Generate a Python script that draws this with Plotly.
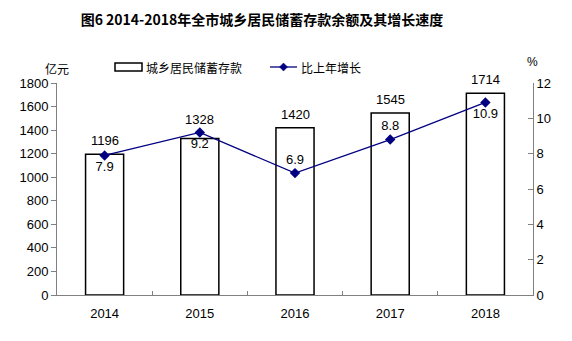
import plotly.graph_objects as go

years = ["2014", "2015", "2016", "2017", "2018"]
deposits = [1196, 1328, 1420, 1545, 1714]
growth = [7.9, 9.2, 6.9, 8.8, 10.9]
growth_label_pos = ["bottom center", "bottom center", "top center", "top center", "bottom center"]
deposit_label_shift = [4, 10, 4, 4, 4]

title_text = "图6 2014-2018年全市城乡居民储蓄存款余额及其增长速度"
bar_name = "城乡居民储蓄存款"
line_name = "比上年增长"

NUM_FONT = "Arial, Liberation Sans, Noto Sans CJK SC, sans-serif"
CJK_FONT = "Noto Sans CJK SC, sans-serif"
NAVY = "#000080"

# plot area geometry (px)
W, H = 572, 341
ML, MR, MT, MB = 57, 39, 83, 46
PW, PH = W - ML - MR, H - MT - MB


def to_px_x(xp):
    return (xp - ML) / PW


def to_px_y(yp):
    return (H - MB - yp) / PH


fig = go.Figure()
fig.add_trace(go.Bar(
    x=years, y=deposits, name=bar_name, showlegend=False,
    marker=dict(color="white", line=dict(color="black", width=1.5)),
    width=0.4,
))
fig.add_trace(go.Scatter(
    x=years, y=growth, name=line_name, yaxis="y2", showlegend=False,
    mode="lines+markers+text",
    line=dict(color=NAVY, width=1.3),
    marker=dict(symbol="diamond", size=8, color=NAVY),
    text=[f"{v:.1f}" for v in growth], textposition=growth_label_pos,
    textfont=dict(family=NUM_FONT, size=13, color="black"),
    cliponaxis=False,
))

annotations = []
for i, (v, s) in enumerate(zip(deposits, deposit_label_shift)):
    annotations.append(dict(
        text=str(v), x=i, y=v, xref="x", yref="y", xanchor="center", yanchor="bottom",
        yshift=s, showarrow=False, font=dict(family=NUM_FONT, size=13, color="black")))

annotations += [
    dict(text="亿元", xref="paper", yref="paper", x=0.0, y=to_px_y(68),
         xanchor="center", yanchor="middle", showarrow=False,
         font=dict(family=CJK_FONT, size=12, color="black")),
    dict(text="%", xref="paper", yref="paper", x=to_px_x(532), y=to_px_y(62),
         xanchor="center", yanchor="middle", showarrow=False,
         font=dict(family=NUM_FONT, size=12, color="black")),
    # legend texts
    dict(text=bar_name, xref="paper", yref="paper", x=to_px_x(144), y=to_px_y(67),
         xanchor="left", yanchor="middle", showarrow=False,
         font=dict(family=CJK_FONT, size=12, color="black")),
    dict(text=line_name, xref="paper", yref="paper", x=to_px_x(299), y=to_px_y(67),
         xanchor="left", yanchor="middle", showarrow=False,
         font=dict(family=CJK_FONT, size=12, color="black")),
]

# legend symbols
cx, cy = 283.5, 67
shapes = [
    dict(type="rect", xref="paper", yref="paper", x0=to_px_x(115), x1=to_px_x(142),
         y0=to_px_y(71), y1=to_px_y(63),
         line=dict(color="black", width=1.5), fillcolor="white"),
    dict(type="line", xref="paper", yref="paper", x0=to_px_x(270), x1=to_px_x(297),
         y0=to_px_y(cy), y1=to_px_y(cy), line=dict(color=NAVY, width=1.3)),
    dict(type="path", xref="paper", yref="paper",
         path=(f"M{to_px_x(cx - 4)},{to_px_y(cy)} L{to_px_x(cx)},{to_px_y(cy - 4)} "
               f"L{to_px_x(cx + 4)},{to_px_y(cy)} L{to_px_x(cx)},{to_px_y(cy + 4)} Z"),
         fillcolor=NAVY, line=dict(color=NAVY, width=0.5)),
]

fig.update_layout(
    width=W, height=H,
    margin=dict(l=ML, r=MR, t=MT, b=MB),
    paper_bgcolor="white", plot_bgcolor="white",
    title=dict(text=title_text, x=262 / W, xanchor="center", y=0.94, yanchor="middle",
               font=dict(family=CJK_FONT, size=14, color="black", weight="bold")),
    showlegend=False,
    xaxis=dict(type="category", range=[-0.5, len(years) - 0.5], showline=True,
               linecolor="#808080", linewidth=1,
               ticks="inside", tickson="boundaries", ticklen=4, tickcolor="#808080",
               ticklabelstandoff=6,
               tickfont=dict(family=NUM_FONT, size=13, color="black"),
               showgrid=False, zeroline=False),
    yaxis=dict(range=[0, 1800], dtick=200, showline=True, linecolor="#808080", linewidth=1,
               ticks="outside", ticklen=5, tickcolor="#808080",
               tickfont=dict(family=NUM_FONT, size=13, color="black"),
               showgrid=False, zeroline=False),
    yaxis2=dict(range=[0, 12], dtick=2, overlaying="y", side="right",
                showline=True, linecolor="#808080", linewidth=1,
                ticks="inside", ticklen=5, tickcolor="#808080",
                tickfont=dict(family=NUM_FONT, size=13, color="black"),
                showgrid=False, zeroline=False),
    annotations=annotations,
    shapes=shapes,
)

fig.write_html("out.html")
